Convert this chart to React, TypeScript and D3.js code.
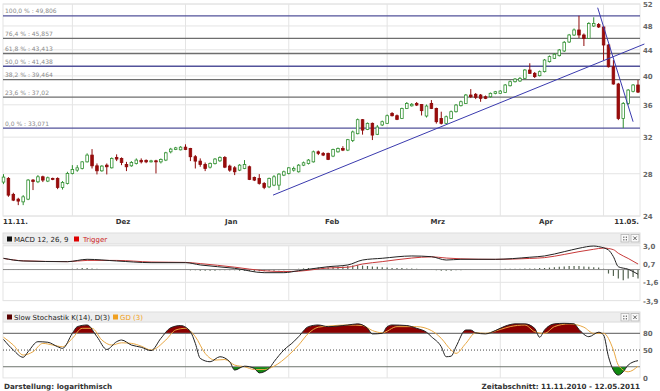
import React from "react";
import * as d3 from "d3";

// ---------------- DATA ----------------
const candleOpen = [27.16,27.53,25.97,25.52,25.27,25.52,27.36,27.19,27.69,27.26,27.53,27.53,26.64,27.03,28.03,28.37,28.54,29.24,29.97,28.82,28.30,28.89,28.61,29.72,29.61,28.96,28.82,29.07,29.40,29.40,29.24,29.35,29.24,29.43,30.33,30.59,30.55,30.85,30.70,29.79,29.32,28.96,28.68,29.05,29.35,29.70,28.79,28.61,28.37,28.54,28.72,27.63,27.53,27.03,26.69,26.86,26.86,27.86,28.03,28.37,28.20,28.89,29.07,29.24,30.33,30.16,30.16,29.86,30.33,30.70,30.52,31.60,32.40,34.10,32.91,33.65,32.33,33.45,33.65,34.89,34.60,34.26,35.52,35.87,36.18,36.04,34.56,36.18,35.52,34.26,33.65,34.26,35.11,35.89,36.18,37.31,37.41,37.31,37.08,37.08,37.54,37.54,37.67,38.60,39.17,39.27,39.65,40.87,40.38,40.04,40.63,42.14,42.65,43.07,43.81,45.27,46.44,47.30,46.44,45.88,47.99,48.26,47.82,44.78,41.36,38.84,34.26,36.18,37.82,38.70];
const candleHigh = [27.96,27.66,26.12,25.65,25.90,27.46,27.46,27.86,27.80,27.71,27.60,27.63,27.26,28.20,28.89,28.89,29.32,30.16,30.63,29.07,28.89,29.07,29.72,30.05,29.72,29.24,29.32,29.61,29.61,29.50,29.46,29.46,29.61,30.33,30.77,30.88,30.96,31.17,30.77,29.97,29.61,29.17,29.17,29.65,29.83,29.86,28.94,28.79,29.00,29.43,28.84,27.71,27.96,27.16,27.61,27.86,28.06,28.32,28.68,28.74,29.00,29.27,29.54,30.47,30.47,30.30,30.24,30.68,30.81,30.96,31.79,32.77,34.24,34.18,33.75,33.75,33.45,33.99,34.75,35.06,34.75,35.63,36.37,36.24,36.37,36.11,36.04,36.63,35.63,35.11,34.62,35.26,36.11,36.56,37.45,38.13,37.58,37.45,37.24,37.65,37.87,37.99,38.84,39.34,39.70,39.84,41.02,41.89,40.58,40.80,42.55,43.10,43.49,44.13,45.44,46.62,47.56,49.81,46.70,48.66,49.54,48.51,48.00,44.94,42.39,39.00,36.37,38.13,38.84,39.41];
const candleLow = [26.96,25.74,25.34,24.97,24.97,25.43,26.38,27.06,27.16,27.16,27.35,26.47,26.43,26.93,27.93,28.20,28.44,29.17,28.54,27.93,28.20,27.93,28.54,29.32,28.89,28.27,28.72,28.96,29.07,29.10,29.17,28.03,29.07,29.32,30.16,30.52,30.49,30.52,29.32,28.54,28.72,28.27,28.54,28.96,29.24,28.58,28.20,27.86,28.27,28.47,27.36,27.26,26.91,26.47,26.57,26.76,26.38,27.76,27.93,28.22,28.12,28.79,28.96,29.16,29.97,29.86,29.43,29.75,30.24,30.41,30.41,31.43,32.33,32.29,32.83,31.66,32.24,33.32,33.57,34.50,34.05,34.18,35.45,35.77,35.84,34.63,34.37,35.45,33.62,33.51,33.57,34.18,35.00,35.78,36.11,36.90,36.76,36.40,36.76,36.97,37.41,37.45,37.58,38.49,39.05,39.13,39.55,40.29,39.70,39.93,40.51,42.01,42.55,42.94,43.65,45.11,46.27,45.94,44.61,45.77,47.82,47.65,42.39,41.25,38.75,34.05,33.071,36.00,37.67,37.58];
const candleClose = [27.66,25.90,25.43,25.34,25.74,27.36,27.21,27.69,27.36,27.59,27.43,26.64,27.13,28.03,28.44,28.61,29.24,29.97,28.82,28.30,28.79,28.72,29.61,29.54,29.17,28.72,29.17,29.43,29.24,29.24,29.35,29.24,29.50,30.22,30.63,30.77,30.85,30.59,29.79,29.32,28.96,28.54,29.07,29.54,29.72,28.68,28.37,28.20,28.89,28.96,27.43,27.36,27.03,26.64,27.53,27.69,27.96,28.20,28.61,28.54,28.89,29.14,29.43,30.33,30.16,29.97,29.50,30.59,30.70,30.52,31.70,32.61,34.10,32.83,33.65,32.24,33.20,33.85,34.60,34.60,34.14,35.52,36.18,36.07,35.97,35.24,35.84,35.52,33.85,33.65,34.47,35.11,35.97,36.41,37.31,37.08,37.00,36.86,36.86,37.54,37.76,37.85,38.70,39.17,39.55,39.65,40.87,40.38,39.90,40.63,42.39,42.92,43.29,43.97,45.22,46.44,47.30,46.44,45.88,48.43,48.43,47.82,44.78,41.36,38.84,34.26,36.18,37.99,38.70,37.71];

const priceTicks = [24, 28, 32, 36, 40, 44, 48, 52];
const monthStarts = [14, 37, 58, 78, 101, 122];
const monthNames = ["Dez", "Jan", "Feb", "Mrz", "Apr"];
const firstDateLabel = "11.11.";
const lastDateLabel = "11.05.";

const fibPct = ["100,0", "76,4", "61,8", "50,0", "38,2", "23,6", "0,0"];
const fibVal = [49.806, 45.857, 43.413, 41.438, 39.464, 37.02, 33.071];
const fibText = ["49,806", "45,857", "43,413", "41,438", "39,464", "37,02", "33,071"];
const fibMajor = [true, false, false, true, false, false, true];

const trendUp: [number, number][] = [[54.8, 25.9], [130.3, 44.94]];
const trendDown: [number, number][] = [[120.8, 51.3], [128.0, 33.85]];

const macdIdx = [0,4,13,17,23,30,37,40,47,53,57,60,66,70,73,77,83,87,90,93,100,107,110,114,117,120,121,123,124,125,127,129];
const macdVal = [1.42,1.08,0.99,1.29,1.08,0.87,0.87,0.58,0.16,-0.39,-0.39,-0.14,0.36,0.58,1.2,1.42,1.71,1.62,1.2,1.29,1.29,1.55,1.71,2.25,2.68,2.96,2.88,2.46,1.62,0.36,0.04,-0.59];
const trigIdx = [0,4,13,17,23,30,37,40,47,53,57,60,66,70,73,77,83,87,90,93,100,107,110,114,117,120,122,124,125,127,129];
const trigVal = [1.4,1.1,1.0,1.15,1.15,0.95,0.9,0.75,0.3,-0.15,-0.25,-0.2,0.2,0.3,0.7,1.0,1.45,1.6,1.45,1.35,1.28,1.4,1.5,1.9,2.25,2.55,2.7,2.5,2.05,1.4,0.7];
const histVal = [
  0.05,0.05,-0.05,-0.05,-0.05,0.05,0.05,0.05,0.05,0.05,0.05,0,0.05,0.05,
  0.1,0.15,0.2,0.2,0.15,0.1,0.05,0,0,
  -0.05,-0.05,-0.05,-0.05,-0.05,-0.05,-0.05,-0.05,-0.05,0,0,0,0.05,0.05,
  -0.05,-0.1,-0.1,-0.15,-0.15,-0.15,-0.15,-0.1,-0.1,-0.1,
  -0.1,-0.15,-0.15,-0.2,-0.2,-0.2,-0.2,-0.15,-0.15,-0.1,-0.1,
  0,0.05,0.1,0.15,0.2,0.2,0.25,0.25,0.3,
  0.35,0.4,0.4,0.45,0.5,0.55,0.5,0.45,0.4,0.35,
  0.3,0.25,0.2,0.2,0.2,0.15,0.15,0.1,0.05,0,
  -0.05,-0.1,-0.15,-0.15,-0.15,-0.1,-0.1,-0.05,-0.05,0,
  0,0.05,0.05,0.05,0.05,0.1,0.1,0.1,0.1,0.15,0.15,0.15,0.2,0.2,
  0.25,0.3,0.35,0.4,0.45,0.45,0.45,0.4,0.35,0.3,0.25,0.1,
  -0.5,-0.8,-1.13,-1.34,-1.13,-0.92,-1.13
];
const macdTicks = [3.0, 0.7, -1.6, -3.9];
const macdTickText = ["3,0", "0,7", "-1,6", "-3,9"];

const kIdx = [0,2,4,5,7,9,11,12,14,15,17,19,21,23,24,26,28,30,32,34,36,38,39,40,42,44,46,47,49,51,52,54,55,57,59,60,62,64,66,70,72,74,75,77,78,79,82,84,86,87,89,90,91,92,94,95,96,98,100,102,104,106,108,109,110,112,114,116,117,119,121,122,123,125,126,127,129];
const kVal = [69,50,37,47,65,64,56,53,80,92,95,74,51,65,68,59,55,49,71,90,94,83,62,35,29,38,29,14,21,17,9,17,29,50,65,74,92,95,92,95,97,89,79,80,92,95,94,89,82,74,56,38,39,56,86,86,81,79,85,93,97,97,89,73,86,97,98,97,87,74,82,77,38,5,11,23,31];
const dIdx = [0,2,4,6,8,10,12,14,16,18,20,22,24,26,28,30,33,35,37,39,41,43,45,47,49,51,53,55,58,60,62,64,66,70,73,75,77,80,84,87,89,91,92,94,96,98,101,103,106,108,110,112,115,118,120,122,124,125,127,129];
const dVal = [73,59,41,47,62,59,56,71,89,89,68,59,63,62,57,50,68,86,89,74,44,32,33,23,20,15,15,21,41,59,80,91,93,95,94,85,81,92,92,85,71,50,44,62,81,80,87,92,95,83,80,92,97,91,80,80,50,23,11,21];
const stochTicks = [80, 50, 0];

// ---------------- COMPONENT ----------------
export default function App() {
  const W = 660, H = 391;
  const L = 3, R = 640;
  const x = d3.scaleLinear().domain([0, 129]).range([3.5, 638]);
  const y = d3.scaleLog().domain([24, 52]).range([216, 4]);
  const yM = d3.scaleLinear().domain([-3.9, 3.0]).range([300.6, 245.7]);
  const yS = d3.scaleLinear().domain([0, 100]).range([377.9, 322.2]);

  const font = "'DejaVu Sans', Verdana, sans-serif";
  const gridC = "#e4e4e4";
  const green = "#2f8f2f";
  const red = "#8e0a0a";

  const monthX = monthStarts.map((m) => x(m));
  const labelIdx = monthNames.map((_, k) => (monthStarts[k] + monthStarts[k + 1]) / 2 - 1.2);

  const macdLine = d3.line<number>().x((_, i) => x(macdIdx[i])).y((v) => yM(v)).curve(d3.curveMonotoneX);
  const trigLine = d3.line<number>().x((_, i) => x(trigIdx[i])).y((v) => yM(v)).curve(d3.curveMonotoneX);
  const kLine = d3.line<number>().x((_, i) => x(kIdx[i])).y((v) => yS(v)).curve(d3.curveMonotoneX);
  const dLine = d3.line<number>().x((_, i) => x(dIdx[i])).y((v) => yS(v)).curve(d3.curveMonotoneX);
  const kAreaHi = d3.area<number>().x((_, i) => x(kIdx[i])).y0(yS(80)).y1((v) => yS(v)).curve(d3.curveMonotoneX);
  const kAreaLo = d3.area<number>().x((_, i) => x(kIdx[i])).y0(yS(20)).y1((v) => yS(v)).curve(d3.curveMonotoneX);

  const header = (yTop: number, h: number) => (
    <g>
      <rect x={L} y={yTop} width={R - L} height={h} fill="#eeeeee" stroke="#dddddd" />
      <rect x={621} y={yTop + 1.5} width={8} height={7.5} fill="#fafafa" stroke="#b5b5b5" strokeWidth={0.8} />
      {[0, 1].map((r) => [0, 1].map((c) => (
        <rect key={"d" + r + c} x={623.2 + c * 2.6} y={yTop + 3.6 + r * 2.6} width={1.2} height={1.2} fill="#555" />
      )))}
      <rect x={631} y={yTop + 1.5} width={8} height={7.5} fill="#fafafa" stroke="#b5b5b5" strokeWidth={0.8} />
      <line x1={633.3} y1={yTop + 3.5} x2={636.7} y2={yTop + 7} stroke="#555" strokeWidth={0.9} />
      <line x1={636.7} y1={yTop + 3.5} x2={633.3} y2={yTop + 7} stroke="#555" strokeWidth={0.9} />
    </g>
  );

  return (
    <svg width={W} height={H} style={{ position: "absolute", left: 0, top: 0, background: "#fff" }}>
      <defs>
        <clipPath id="hiClip"><rect x={L} y={yS(100) - 2} width={R - L} height={yS(80) - yS(100) + 2} /></clipPath>
        <clipPath id="loClip"><rect x={L} y={yS(20)} width={R - L} height={yS(0) - yS(20) + 2} /></clipPath>
      </defs>

      {/* ===== MAIN PANEL ===== */}
      <rect x={L} y={y(52)} width={R - L} height={y(24) - y(52)} fill="#fff" stroke={gridC} />
      {priceTicks.map((t) => (
        <g key={"pt" + t}>
          <line x1={L} x2={R} y1={y(t)} y2={y(t)} stroke={gridC} />
          <text x={643} y={y(t) + 3} fontSize={7} fontWeight="bold" fill="#666" fontFamily={font}>{t}</text>
        </g>
      ))}
      {monthX.map((mx, k) => (
        <line key={"mg" + k} x1={mx} x2={mx} y1={y(52)} y2={y(24)} stroke={gridC} />
      ))}
      {/* fibonacci */}
      {fibVal.map((v, k) => (
        <g key={"fib" + k}>
          <line x1={L} x2={R} y1={y(v)} y2={y(v)} stroke={fibMajor[k] ? "#52529a" : "#6e6e6e"} strokeWidth={1.3} />
          <text x={5} y={y(v) - 2.5} fontSize={6} fill="#8a8a8a" fontFamily={font}>{fibPct[k] + " % : " + fibText[k]}</text>
        </g>
      ))}
      {/* candles */}
      {candleOpen.map((o, i) => {
        const c = candleClose[i];
        const up = c >= o;
        const col = up ? green : red;
        const top = y(Math.max(o, c));
        const bot = y(Math.min(o, c));
        const cx = x(i);
        return (
          <g key={"c" + i}>
            <line x1={cx} x2={cx} y1={y(candleHigh[i])} y2={y(candleLow[i])} stroke={col} strokeWidth={1} />
            <rect x={cx - 1.3} y={top} width={2.6} height={Math.max(0.8, bot - top)} fill={up ? "#ffffff" : "#9b0b0b"} stroke={col} strokeWidth={0.8} />
          </g>
        );
      })}
      {/* trend lines */}
      <line x1={x(trendUp[0][0])} y1={y(trendUp[0][1])} x2={x(trendUp[1][0])} y2={y(trendUp[1][1])} stroke="#3a3aae" strokeWidth={1} />
      <line x1={x(trendDown[0][0])} y1={y(trendDown[0][1])} x2={x(trendDown[1][0])} y2={y(trendDown[1][1])} stroke="#3a3aae" strokeWidth={1} />
      {/* x labels */}
      <text x={L} y={224} fontSize={7} fontWeight="bold" fill="#333" fontFamily={font}>{firstDateLabel}</text>
      {monthNames.map((m, k) => (
        <text key={"ml" + k} x={x(labelIdx[k])} y={224} fontSize={7} fontWeight="bold" fill="#333" textAnchor="middle" fontFamily={font}>{m}</text>
      ))}
      <text x={R - 1} y={224} fontSize={7} fontWeight="bold" fill="#333" textAnchor="end" fontFamily={font}>{lastDateLabel}</text>

      {/* ===== MACD PANEL ===== */}
      {header(233, 11)}
      <rect x={L} y={yM(3.0)} width={R - L} height={yM(-3.9) - yM(3.0)} fill="#fff" stroke={gridC} />
      {macdTicks.map((t, k) => (
        <g key={"mt" + k}>
          <line x1={L} x2={R} y1={yM(t)} y2={yM(t)} stroke={gridC} />
          <text x={643} y={yM(t) + 3} fontSize={7} fontWeight="bold" fill="#666" fontFamily={font}>{macdTickText[k]}</text>
        </g>
      ))}
      {monthX.map((mx, k) => (
        <line key={"mg2" + k} x1={mx} x2={mx} y1={yM(3.0)} y2={yM(-3.9)} stroke={gridC} />
      ))}
      {histVal.map((h, i) => (
        <line key={"h" + i} x1={x(i)} x2={x(i)} y1={yM(0)} y2={yM(h)} stroke="#52624f" strokeWidth={1.2} />
      ))}
      <line x1={L} x2={R} y1={yM(0)} y2={yM(0)} stroke="#8a8a8a" strokeWidth={1} />
      <path d={trigLine(trigVal) || ""} fill="none" stroke="#c83a3a" strokeWidth={1} />
      <path d={macdLine(macdVal) || ""} fill="none" stroke="#222" strokeWidth={1} />
      <rect x={7} y={236.5} width={5} height={5} fill="#111" />
      <text x={14} y={241.5} fontSize={7} fill="#222" fontFamily={font}>MACD 12, 26, 9</text>
      <rect x={74} y={236.5} width={5} height={5} fill="#dd0000" />
      <text x={83} y={241.5} fontSize={7} fill="#cc2222" fontFamily={font}>Trigger</text>

      {/* ===== STOCHASTIC PANEL ===== */}
      {header(312, 10)}
      <rect x={L} y={yS(100)} width={R - L} height={yS(0) - yS(100)} fill="#fff" stroke={gridC} />
      {monthX.map((mx, k) => (
        <line key={"mg3" + k} x1={mx} x2={mx} y1={yS(100)} y2={yS(0)} stroke={gridC} />
      ))}
      <path d={kAreaHi(kVal) || ""} fill="#8b0000" clipPath="url(#hiClip)" />
      <path d={kAreaLo(kVal) || ""} fill="#118a11" clipPath="url(#loClip)" />
      <line x1={L} x2={R} y1={yS(80)} y2={yS(80)} stroke="#7a7a7a" strokeWidth={1.2} />
      <line x1={L} x2={R} y1={yS(20)} y2={yS(20)} stroke="#7a7a7a" strokeWidth={1.2} />
      <line x1={L} x2={R} y1={yS(50)} y2={yS(50)} stroke="#444" strokeWidth={1} strokeDasharray="1,2" />
      <path d={dLine(dVal) || ""} fill="none" stroke="#e9a843" strokeWidth={1} />
      <path d={kLine(kVal) || ""} fill="none" stroke="#222" strokeWidth={1} />
      {stochTicks.map((t) => (
        <text key={"st" + t} x={643} y={yS(t) + 3} fontSize={7} fontWeight="bold" fill="#666" fontFamily={font}>{t}</text>
      ))}
      <rect x={7} y={314.5} width={5} height={5} fill="#5a0000" />
      <text x={14} y={319.5} fontSize={7} fill="#222" fontFamily={font}>Slow Stochastik K(14), D(3)</text>
      <rect x={113} y={314.5} width={5} height={5} fill="#f0a020" />
      <text x={120} y={319.5} fontSize={7} fill="#f0a020" fontFamily={font}>GD (3)</text>

      {/* footer */}
      <text x={4} y={389} fontSize={7.2} fontWeight="bold" fill="#333" fontFamily={font}>Darstellung: logarithmisch</text>
      <text x={R} y={389} fontSize={7.2} fontWeight="bold" fill="#333" textAnchor="end" fontFamily={font}>Zeitabschnitt: 11.11.2010 - 12.05.2011</text>
    </svg>
  );
}
